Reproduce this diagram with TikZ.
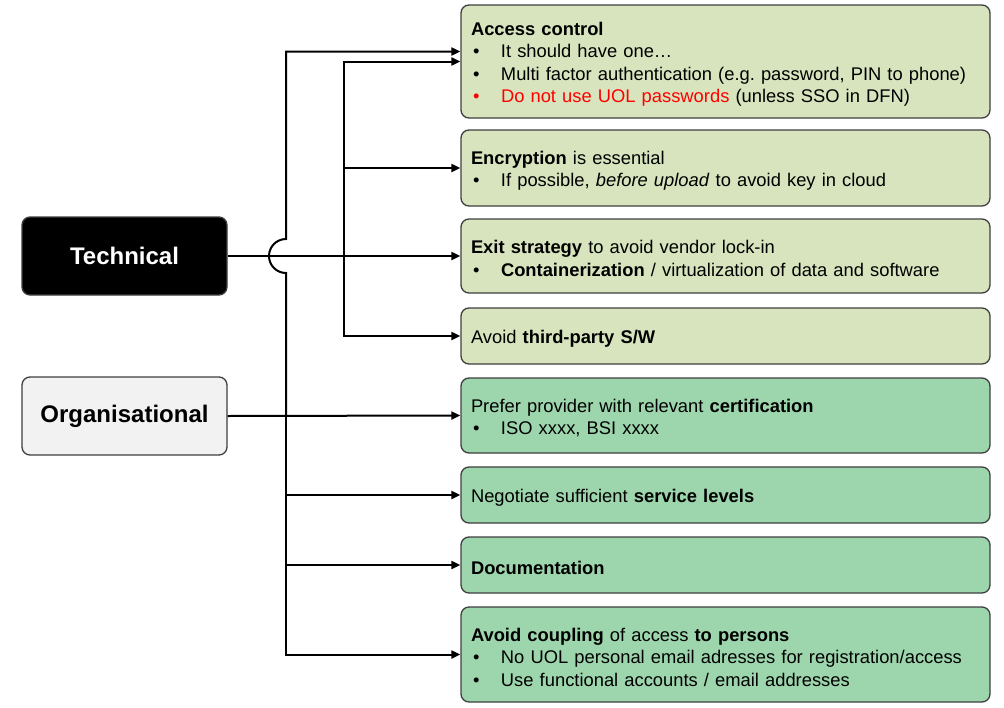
\documentclass[tikz,border=0pt]{standalone}
\usepackage{fontspec}
\setmainfont{Liberation Sans}
\usetikzlibrary{arrows.meta}
\definecolor{lgreen}{HTML}{D7E4BD}
\definecolor{mgreen}{HTML}{9DD6AD}
\definecolor{bordc}{HTML}{3F3F3F}
\definecolor{orgfill}{HTML}{F2F2F2}
\definecolor{redtxt}{HTML}{FF0000}
\newcommand{\bul}[1]{\makebox[30pt][l]{\hspace{2pt}#1}}
\frenchspacing
\begin{document}
\begin{tikzpicture}[x=1pt,y=-1pt,
  rbox/.style={draw=bordc, line width=1.3pt, rounded corners=8pt,
    minimum width=529pt, text width=509pt, inner xsep=10pt, inner ysep=0pt,
    align=left, font=\fontsize{18.35}{22.5}\selectfont,
    execute at begin node={\rule{0pt}{18.5pt}}},
  lbox/.style={draw=bordc, line width=1.3pt, rounded corners=8pt,
    minimum width=205pt, minimum height=78pt, inner sep=0pt,
    font=\fontsize{24}{28}\selectfont\bfseries},
  arr/.style={line width=2pt, -{Triangle[length=9pt,width=8pt]}},
  ln/.style={line width=2pt}]
\useasboundingbox (0,0) rectangle (1004,707);

\node[lbox, fill=black, text=white] (T) at (124.5,256) {Technical};
\node[lbox, fill=orgfill, text=black] (O) at (124.5,416) {Organisational};

\node[rbox, fill=lgreen, minimum height=113pt] (b1) at (725.5,61.5) {%
\textbf{Access control}\\
\bul{•}It should have one…\\
\bul{•}Multi factor authentication (e.g. password, PIN to phone)\\
\bul{\textcolor{redtxt}{•}}\textcolor{redtxt}{Do not use UOL passwords} (unless SSO in DFN)};

\node[rbox, fill=lgreen, minimum height=76pt] (b2) at (725.5,168) {%
\textbf{Encryption} is essential\\
\bul{•}If possible, \textit{before upload} to avoid key in cloud};

\node[rbox, fill=lgreen, minimum height=74pt] (b3) at (725.5,256) {%
\textbf{Exit strategy} to avoid vendor lock-in\\
\bul{•}\textbf{Containerization} / virtualization of data and software};

\node[rbox, fill=lgreen, minimum height=56pt] (b4) at (725.5,336) {%
Avoid \textbf{third-party S/W}};

\node[rbox, fill=mgreen, minimum height=75pt] (b5) at (725.5,415.5) {%
Prefer provider with relevant \textbf{certification}\\
\bul{•}ISO xxxx, BSI xxxx};

\node[rbox, fill=mgreen, minimum height=56pt] (b6) at (725.5,495) {%
Negotiate sufficient \textbf{service levels}};

\node[rbox, fill=mgreen, minimum height=56pt] (b7) at (725.5,565) {%
\textbf{Documentation}};

\node[rbox, fill=mgreen, minimum height=95pt] (b8) at (725.5,654.5) {%
\textbf{Avoid coupling} of access \textbf{to persons}\\
\bul{•}No UOL personal email adresses for registration/access\\
\bul{•}Use functional accounts / email addresses};

% junctions
\coordinate (tj) at (344,256);
\coordinate (oj) at (286,415.5);

% Technical connectors
\draw[arr] (T.east) -- (b3.west);
\draw[arr] (tj) |- (b1.west);
\draw[arr] (tj) |- (b2.west);
\draw[arr] (tj) |- (b4.west);

% Organisational connectors
\draw[arr] (O.east) -- (b5.west);
\draw[arr] (oj) -- (286,273) arc[start angle=270, end angle=90, radius=17pt]
  |- ([yshift=10pt]b1.west);
\draw[arr] (oj) |- (b6.west);
\draw[arr] (oj) |- (b7.west);
\draw[arr] (oj) |- (b8.west);
\end{tikzpicture}
\end{document}
